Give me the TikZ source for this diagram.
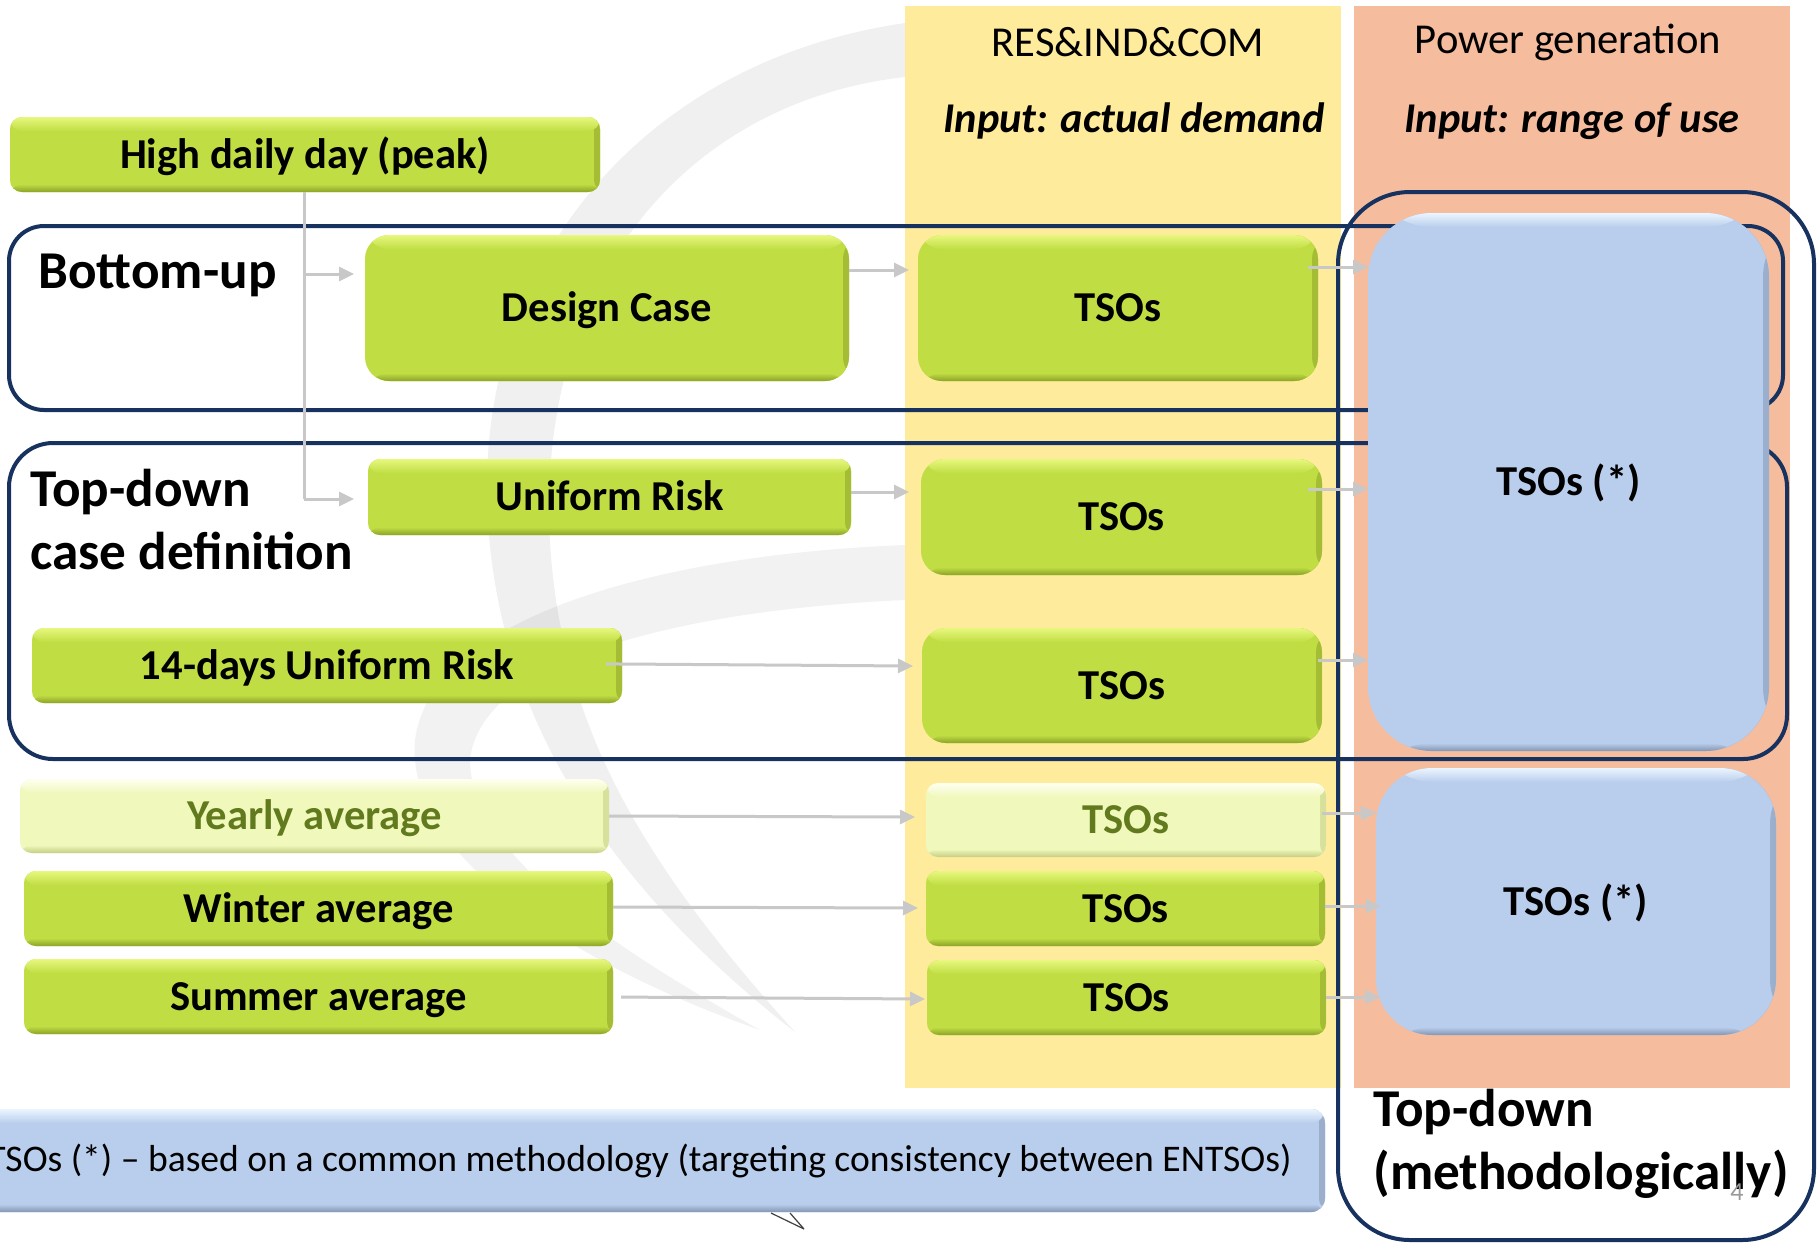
\documentclass[tikz,border=0pt]{standalone}
\usepackage{fontspec}
\setmainfont{Carlito}
\usetikzlibrary{fit,arrows.meta}
\definecolor{gMain}{RGB}{192,222,68}
\definecolor{gLight}{RGB}{232,247,125}
\definecolor{gDark}{RGB}{140,162,40}
\definecolor{pMain}{RGB}{240,248,188}
\definecolor{pLight}{RGB}{255,255,240}
\definecolor{pDark}{RGB}{196,206,130}
\definecolor{pText}{RGB}{98,122,30}
\definecolor{bMain}{RGB}{185,206,236}
\definecolor{bLight}{RGB}{235,245,255}
\definecolor{bDark}{RGB}{130,150,180}
\definecolor{navy}{RGB}{24,50,96}
\definecolor{colY}{RGB}{255,235,156}
\definecolor{colO}{RGB}{246,188,158}
\definecolor{arrowgray}{RGB}{200,200,200}
\begin{document}
\begin{tikzpicture}[x=0.5pt,y=-0.5pt,
  boxbase/.style={inner sep=0pt, outer sep=0pt, draw=none},
  lbl/.style={inner sep=0pt, text height=13.7pt, text depth=0pt, font=\bfseries\fontsize{21.3}{25}\selectfont},
  bevel/.style n args={3}{fill=#1, path picture={
     \shade[left color=#1, right color=#3!55!#1] ([xshift=-3pt]path picture bounding box.north east) rectangle (path picture bounding box.south east);
     \shade[bottom color=#1, top color=#2] ([yshift=-7pt]path picture bounding box.north west) rectangle (path picture bounding box.north east);
     \shade[top color=#1, bottom color=#3] (path picture bounding box.south west) rectangle ([yshift=4pt]path picture bounding box.south east);
  }},
  gbox/.style={boxbase, bevel={gMain}{gLight}{gDark}, label={[lbl]center:#1}},
  pbox/.style={boxbase, bevel={pMain}{pLight}{pDark}, label={[lbl, text=pText]center:#1}},
  bbox/.style={boxbase, bevel={bMain}{bLight}{bDark}, label={[lbl]center:#1}},
  frame/.style={draw=navy, line width=2pt},
  gline/.style={draw=arrowgray, line width=1.5pt},
  garrow/.style={gline, -{Triangle[length=7.5pt,width=7pt]}},
  title/.style={font=\bfseries\fontsize{26.6}{31}\selectfont, anchor=base west, inner sep=0pt},
  head/.style={font=\fontsize{21.3}{25}\selectfont, inner sep=0pt},
  headi/.style={font=\bfseries\itshape\fontsize{21.2}{25}\selectfont, inner sep=0pt}
]
\useasboundingbox (0,0) rectangle (1818,1244);
\fill[white] (0,0) rectangle (1818,1244);

% columns
\fill[colY] (905,6) rectangle (1341,1088);
\fill[colO] (1354,6) rectangle (1790,1088);

% watermark
\fill[black, opacity=0.06] (905,23) .. controls (650,60) and (490,250) .. (487,480)
   .. controls (485,700) and (600,880) .. (795,1032)
   .. controls (640,860) and (555,720) .. (549,520)
   .. controls (545,260) and (700,100) .. (905,77) -- cycle;
\fill[black, opacity=0.05] (905,545) .. controls (650,555) and (430,620) .. (415,740)
   .. controls (405,850) and (560,960) .. (760,1030)
   .. controls (600,940) and (470,850) .. (470,760)
   .. controls (480,660) and (680,610) .. (905,600) -- cycle;

% frames
\draw[frame, rounded corners=17.5pt] (9,226) rectangle (1783,410);
\draw[frame, rounded corners=22pt] (9,443) rectangle (1787,759);
\draw[frame, rounded corners=36pt] (1338,192) rectangle (1814,1240);

% headers
\node[head] (hres) at (1128,42) {RES\&IND\&COM};
\node[headi] (hdem) at (1134,121) {Input: actual demand};
\node[head] (hpow) at (1568,42) {Power generation};
\node[headi] (hrng) at (1572,121) {Input: range of use};

% left boxes
\node[gbox=High daily day (peak), rounded corners=6pt, fit={(10,117) (600,192)}] (high) {};
\node[gbox=Design Case, rounded corners=12pt, fit={(365,235) (849,381)}] (design) {};
\node[gbox=Uniform Risk, rounded corners=6pt, fit={(368,459) (851,535)}] (uniform) {};
\node[gbox=14-days Uniform Risk, rounded corners=6pt, fit={(32,628) (622,703)}] (days) {};
\node[pbox=Yearly average, rounded corners=6pt, fit={(20,779) (609,853)}] (yearly) {};
\node[gbox=Winter average, rounded corners=6pt, fit={(24,871) (613,946)}] (winter) {};
\node[gbox=Summer average, rounded corners=6pt, fit={(24,959) (613,1034)}] (summer) {};

% TSOs column
\node[gbox=TSOs, rounded corners=12pt, fit={(918,235) (1318,381)}] (t1) {};
\node[gbox=TSOs, rounded corners=12pt, fit={(921,459) (1322,575)}] (t2) {};
\node[gbox=TSOs, rounded corners=12pt, fit={(922,628) (1322,743)}] (t3) {};
\node[pbox=TSOs, rounded corners=6pt, fit={(926,783) (1326,857)}] (t4) {};
\node[gbox=TSOs, rounded corners=6pt, fit={(926,871) (1325,946)}] (t5) {};
\node[gbox=TSOs, rounded corners=6pt, fit={(927,960) (1326,1035)}] (t6) {};

% blue boxes
\node[bbox=TSOs (*), rounded corners=32pt, fit={(1368,213) (1769,751)}] (b1) {};
\node[bbox=TSOs (*), rounded corners=28pt, fit={(1376,768) (1776,1035)}] (b2) {};
\node[bbox={}, rounded corners=7pt, fit={(-40,1109) (1325,1212)}] (banner) {};
\node[anchor=east, inner sep=0pt, font=\fontsize{18.8}{23}\selectfont] (bannertxt) at ([xshift=-16.5pt]banner.east)
  {TSOs (*) – based on a common methodology (targeting consistency between ENTSOs)};
\draw[black!75, line width=0.6pt] (771,1213) -- (804,1229) (790,1213) -- (804,1229);

% titles
\node[title] (tbu) at (38,288) {Bottom-up};
\node[title] (ttd1) at (30,506) {Top-down};
\node[title] (ttd2) at (30,569) {case definition};
\node[title] (tm1) at (1373,1126) {Top-down};
\node[title] (tm2) at (1373,1189) {(methodologically)};
\node[font=\fontsize{13}{14}\selectfont, text=black!40, inner sep=0pt] (pg) at (1737,1192) {4};

% connectors
\coordinate (j1) at (304,274);
\coordinate (j2) at (304,499);
\draw[gline] (high.south -| j1) -- (j2);
\draw[garrow, shorten >=5.5pt] (j1) -- (design.west |- j1);
\draw[garrow, shorten >=7pt] (j2) -- (uniform.west |- j2);

\draw[garrow, shorten >=4.5pt] (design.east |- 0,270) -- (t1.west |- 0,270);
\draw[garrow, shorten >=6pt] (uniform.east |- 0,492) -- (t2.west |- 0,492);
\draw[garrow, shorten <=-8pt] (days.east |- 0,664) -- ([xshift=-4.5pt]t3.west |- 0,666);
\draw[garrow] (yearly.east |- 0,816) -- ([xshift=-5.5pt]t4.west |- 0,817);
\draw[garrow] (winter.east |- 0,907) -- ([xshift=-4pt]t5.west |- 0,908);
\draw[garrow, shorten <=4pt] (summer.east |- 0,997) -- ([xshift=-1pt]t6.west |- 0,999);

\draw[garrow, shorten <=-5pt] (t1.east |- 0,267) -- (b1.west |- 0,267);
\draw[garrow, shorten <=-7pt] (t2.east |- 0,489) -- (b1.west |- 0,489);
\draw[garrow, shorten <=-2pt] (t3.east |- 0,660) -- (b1.west |- 0,660);
\draw[garrow, shorten <=-2pt] (t4.east |- 0,813) -- (b2.west |- 0,813);
\draw[garrow] (t5.east |- 0,906) -- ([xshift=2.5pt]b2.west |- 0,906);
\draw[garrow] (t6.east |- 0,997) -- ([xshift=2pt]b2.west |- 0,997);
\end{tikzpicture}
\end{document}
